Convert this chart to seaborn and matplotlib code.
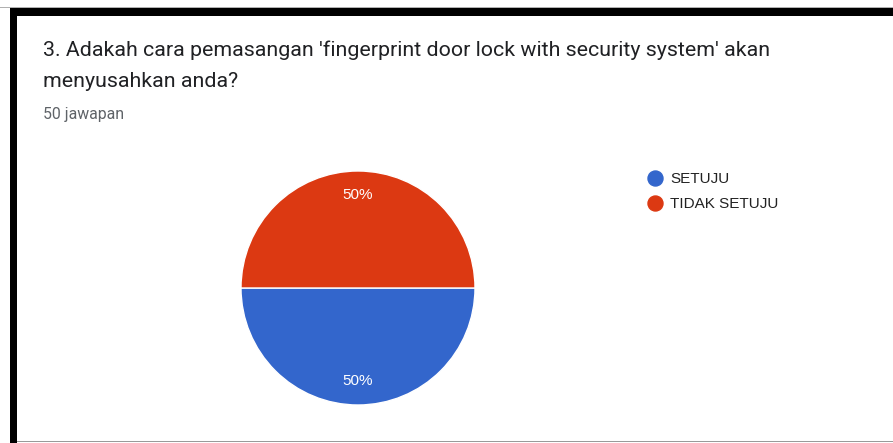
import matplotlib
matplotlib.use("Agg")
import matplotlib.pyplot as plt
import seaborn as sns
from matplotlib.lines import Line2D
from matplotlib.patches import Rectangle

categories = ["SETUJU", "TIDAK SETUJU"]
values = [25, 25]
colors = ["#3366cc", "#dc3912"]
title_lines = ["3. Adakah cara pemasangan 'fingerprint door lock with security system' akan",
               "menyusahkan anda?"]
subtitle = "50 jawapan"

sns.set_theme(style="white")
plt.rcParams["font.family"] = ["Roboto", "DejaVu Sans"]

W, H = 893, 443
fig = plt.figure(figsize=(W / 100, H / 100), dpi=100)
fig.patch.set_facecolor("white")

def fx(px):
    return px / W

def fy(py):
    return 1 - py / H

# frame decorations
fig.add_artist(Rectangle((fx(0), fy(8)), 1, 1.2 / H, transform=fig.transFigure, color="#b0b0b0", lw=0))
fig.add_artist(Rectangle((fx(10), fy(16)), 1, 8 / H, transform=fig.transFigure, color="black", lw=0))
fig.add_artist(Rectangle((fx(10), fy(443)), 7 / W, (443 - 8) / H, transform=fig.transFigure, color="black", lw=0))
fig.add_artist(Rectangle((fx(17), fy(442)), 1, 1.2 / H, transform=fig.transFigure, color="#9a9a9a", lw=0))

# texts
for line, base in zip(title_lines, [56, 87]):
    fig.text(fx(43), fy(base), line, fontsize=15.4, color="#202124", va="baseline", ha="left")
fig.text(fx(43), fy(119), subtitle, fontsize=11.4, color="#5f6368", va="baseline", ha="left")

# pie
cx, cy, r = 358, 288, 117
ax = fig.add_axes([fx(cx - r), fy(cy + r), 2 * r / W, 2 * r / H])
wedges, texts, autotexts = ax.pie(
    values, colors=colors, startangle=180, counterclock=True,
    autopct="%1.0f%%", pctdistance=0.795,
    wedgeprops=dict(edgecolor="white", linewidth=1.0),
    textprops=dict(color="white", fontsize=11, family=["Liberation Sans", "DejaVu Sans"]),
)
ax.set_xlim(-1, 1)
ax.set_ylim(-1, 1)
ax.set_aspect("equal")
ax.axis("off")

# legend
handles = [Line2D([0], [0], marker="o", linestyle="none", markersize=10.8,
                  markerfacecolor=c, markeredgecolor=c) for c in colors]
fig.legend(handles, categories, loc="upper left", bbox_to_anchor=(fx(644), fy(172)),
           frameon=False, handletextpad=0.2, labelspacing=0.72, borderaxespad=0,
           borderpad=0, handlelength=1.5,
           prop=dict(family=["Liberation Sans", "DejaVu Sans"], size=11),
           labelcolor="#222222")

fig.savefig("out.png", dpi=100)
